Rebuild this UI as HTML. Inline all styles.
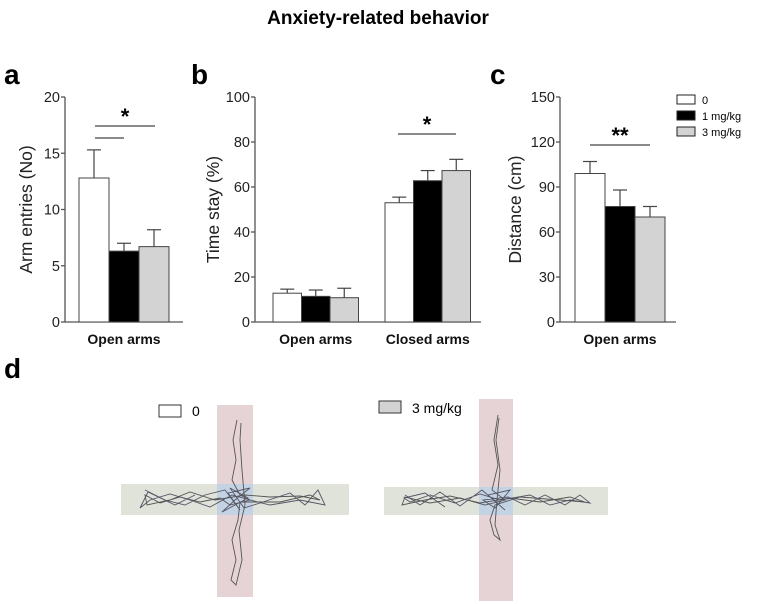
<!DOCTYPE html>
<html><head><meta charset="utf-8"><style>
body{margin:0;background:#fff;}
svg{display:block;font-family:"Liberation Sans",Arial,sans-serif;}
</style></head><body>
<svg id="fig" width="757" height="604" viewBox="0 0 757 604">
<text x="378" y="24" text-anchor="middle" font-size="19" font-weight="bold">Anxiety-related behavior</text>
<text x="4" y="84" font-size="28" font-weight="bold">a</text>
<text x="191" y="84" font-size="28" font-weight="bold">b</text>
<text x="490" y="84" font-size="28" font-weight="bold">c</text>
<text x="4" y="378" font-size="28" font-weight="bold">d</text>
<g id="charts"></g>
<g>
 <rect x="677" y="95" width="18" height="9" fill="#fff" stroke="#222"/>
 <text x="702" y="104" font-size="11">0</text>
 <rect x="677" y="111" width="18" height="9" fill="#000" stroke="#222"/>
 <text x="702" y="120" font-size="11">1 mg/kg</text>
 <rect x="677" y="127" width="18" height="9" fill="#d3d3d3" stroke="#222"/>
 <text x="702" y="136" font-size="11">3 mg/kg</text>
</g>
<g>
 <rect x="159" y="405" width="22" height="12" fill="#fff" stroke="#333"/>
 <text x="192" y="416" font-size="14">0</text>
 <rect x="217" y="405" width="36" height="192" fill="#e6d3d5"/>
 <rect x="121" y="484" width="228" height="31" fill="#dfe3d9"/>
 <rect x="217" y="484" width="36" height="31" fill="#c3d3e3"/>
 <polyline fill="none" stroke="#555" stroke-width="0.9" points="237,420 233,440 236,460 232,480 240,495 250,500 230,505 220,498 200,502 180,497 160,503 145,495 147,505 170,500 190,492 215,500 245,495 270,497 300,496 320,500 310,495 280,502 240,502 238,520 232,540 236,560 231,580 236,585 242,560 239,530 245,505 242,470 240,440 241,423"/>
 <polyline fill="none" stroke="#556" stroke-width="0.9" points="145,490 165,500 185,505 205,495 225,490 240,510 228,493 250,488 235,500 222,512 248,498 230,488 244,508 260,503 290,493 305,505 318,490 325,505 300,500 270,505 250,500 232,495 210,507 190,500 170,494 150,500 140,508 148,492 175,505 195,495"/>
</g>
<g>
 <rect x="379" y="401" width="22" height="12" fill="#d3d3d3" stroke="#333"/>
 <text x="412" y="413" font-size="14">3 mg/kg</text>
 <rect x="479" y="399" width="34" height="202" fill="#e6d3d5"/>
 <rect x="384" y="487" width="224" height="28" fill="#dfe3d9"/>
 <rect x="479" y="487" width="34" height="28" fill="#c3d3e3"/>
 <polyline fill="none" stroke="#555" stroke-width="0.9" points="498,415 494,440 498,465 492,490 505,500 485,505 460,498 430,503 405,497 402,505 425,500 450,496 480,503 510,498 540,502 570,497 585,502 560,500 520,497 495,505 490,520 494,535 500,540 495,525 497,500 500,470 496,440 499,418"/>
 <polyline fill="none" stroke="#556" stroke-width="0.9" points="405,495 420,505 440,492 460,506 482,490 505,510 488,495 510,490 495,508 483,500 508,497 525,505 545,495 565,505 580,495 590,503 570,500 550,505 530,495 500,500 480,494 455,503 430,495 410,502 404,498 425,493 445,507"/>
</g>
</svg>
<script>
const groupColors = ['#ffffff', '#000000', '#d3d3d3'];
const aTicks = [0, 5, 10, 15, 20];
const aMeans = [12.8, 6.3, 6.7];
const aErrors = [2.5, 0.7, 1.5];
const bTicks = [0, 20, 40, 60, 80, 100];
const bCategories = ['Open arms', 'Closed arms'];
const bOpenMeans = [12.8, 11.4, 10.8];
const bOpenErrors = [1.8, 2.8, 4.2];
const bClosedMeans = [53, 62.8, 67.3];
const bClosedErrors = [2.5, 4.5, 5];
const cTicks = [0, 30, 60, 90, 120, 150];
const cMeans = [99, 77, 70];
const cErrors = [8, 11, 7];

const NS = 'http://www.w3.org/2000/svg';
const root = document.getElementById('charts');
function mk(tag, attrs, parent) {
  const e = document.createElementNS(NS, tag);
  for (const k in attrs) e.setAttribute(k, attrs[k]);
  (parent || root).appendChild(e);
  return e;
}
function chart(cfg) {
  const g = mk('g', {});
  
  
  const max = cfg.ticks[cfg.ticks.length - 1];
  const y = v => cfg.y0 - (v / max) * (cfg.y0 - cfg.y1);
  const ax = mk('line', {x1: cfg.x0, y1: cfg.y1, x2: cfg.x0, y2: cfg.y0, stroke: '#555', 'stroke-width': 1.3}, g);
  
  
  const xa = mk('line', {x1: cfg.x0, y1: cfg.y0, x2: cfg.xEnd, y2: cfg.y0, stroke: '#555', 'stroke-width': 1.3}, g);
  
  
  cfg.ticks.forEach(t => {
    const tk = mk('line', {x1: cfg.x0 - 4, y1: y(t), x2: cfg.x0, y2: y(t), stroke: '#555', 'stroke-width': 1.3}, g);
    
    
    const tl = mk('text', {x: cfg.x0 - 5, y: y(t) + 5, 'text-anchor': 'end', 'font-size': 14.5, fill: '#222'}, g);
    tl.textContent = t;
    
    
  });
  const yt = mk('text', {transform: `translate(${cfg.titleX},${(cfg.y0 + cfg.y1) / 2}) rotate(-90)`, 'text-anchor': 'middle', 'font-size': 17.5, fill: '#222'}, g);
  yt.textContent = cfg.yTitle;
  
  
  cfg.groups.forEach(gr => {
    gr.means.forEach((m, i) => {
      const bx = gr.start + i * cfg.bw;
      const cx = bx + cfg.bw / 2;
      const el = mk('line', {x1: cx, y1: y(m), x2: cx, y2: y(m + gr.errors[i]), stroke: '#444', 'stroke-width': 1.2}, g);
      
      
      const cap = mk('line', {x1: cx - 7, y1: y(m + gr.errors[i]), x2: cx + 7, y2: y(m + gr.errors[i]), stroke: '#444', 'stroke-width': 1.2}, g);
      
      
      const r = mk('rect', {x: bx, y: y(m), width: cfg.bw, height: cfg.y0 - y(m), fill: groupColors[i], stroke: '#444', 'stroke-width': 1}, g);
      
      
    });
    const xl = mk('text', {x: gr.start + cfg.bw * 1.5, y: cfg.y0 + 22, 'text-anchor': 'middle', 'font-size': 14, 'font-weight': 'bold', fill: '#111'}, g);
    xl.textContent = gr.label;
    
    
  });
  cfg.sig.forEach(s => {
    const l = mk('line', {x1: s.x1, y1: s.y, x2: s.x2, y2: s.y, stroke: '#444', 'stroke-width': 1.2}, g);
    
    
    if (s.t) {
      const st = mk('text', {x: (s.x1 + s.x2) / 2, y: s.y - 2, 'text-anchor': 'middle', 'font-size': 22, 'font-weight': 'bold'}, g);
      st.textContent = s.t;
      
      
    }
  });
}
chart({name: 'chart-a', x0: 65, xEnd: 183, y0: 322, y1: 97, ticks: aTicks, bw: 30, titleX: 32, yTitle: 'Arm entries (No)',
  groups: [{label: 'Open arms', start: 79, means: aMeans, errors: aErrors}],
  sig: [{x1: 95, x2: 155, y: 126, t: '*'}, {x1: 95, x2: 124, y: 138}]});
chart({name: 'chart-b', x0: 255, xEnd: 481, y0: 322, y1: 97, ticks: bTicks, bw: 28.5, titleX: 219, yTitle: 'Time stay (%)',
  groups: [{label: bCategories[0], start: 273, means: bOpenMeans, errors: bOpenErrors},
           {label: bCategories[1], start: 385, means: bClosedMeans, errors: bClosedErrors}],
  sig: [{x1: 398, x2: 456, y: 134, t: '*'}]});
chart({name: 'chart-c', x0: 560, xEnd: 676, y0: 322, y1: 97, ticks: cTicks, bw: 30, titleX: 521, yTitle: 'Distance (cm)',
  groups: [{label: 'Open arms', start: 575, means: cMeans, errors: cErrors}],
  sig: [{x1: 590, x2: 650, y: 145, t: '**'}]});
</script>
</body></html>
